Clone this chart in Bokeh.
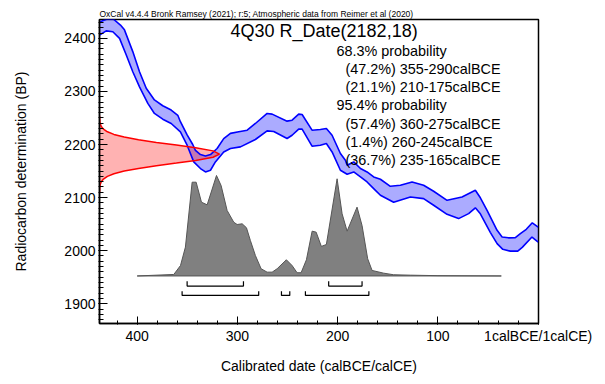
from bokeh.plotting import figure
from bokeh.models import Range1d, FixedTicker, Label
from bokeh.embed import file_html
from bokeh.resources import INLINE

# ---------------- data ----------------
cal_up_year = [437.6, 430.6, 423.6, 416.7, 412.7, 404.4, 397.7, 391.0, 382.8, 374.5, 366.1, 359.5,
               356.9, 350.2, 344.6, 341.9, 336.9, 331.9, 326.9, 320.3, 313.7, 307.0, 298.7, 290.3,
               282.1, 270.4, 265.4, 250.5, 245.5, 238.9, 235.5, 225.6, 217.3, 211.3, 205.6, 197.3,
               192.3, 190.6, 184.0, 177.3, 170.7, 164.1, 157.4, 147.5, 137.5, 125.8, 114.3, 104.3,
               90.9, 76.0, 62.7, 57.7, 51.0, 46.0, 41.0, 36.0, 29.8, 22.8, 17.8, 11.9, 5.9, 0.0]
cal_up_bp = [2431, 2436, 2436, 2425, 2416, 2375, 2337, 2306, 2284, 2273, 2265, 2255,
             2243, 2218, 2200, 2189, 2181, 2178.5, 2181, 2192.5, 2211, 2221, 2224, 2227,
             2239.6, 2258.5, 2257.2, 2244, 2245.8, 2257.2, 2256.6, 2227, 2228.3, 2230.2, 2217.5, 2183,
             2170.4, 2161, 2167.2, 2154.7, 2148.3, 2138.9, 2134.5, 2121.3, 2123.2, 2129.4, 2123.2, 2111.9,
             2094.9, 2101.1, 2113.8, 2099.6, 2076.0, 2057.2, 2038.3, 2025.7, 2024.2, 2024.5, 2032.1, 2040.2, 2052.5, 2044.5]
cal_lo_year = [437.6, 430.9, 424.3, 417.6, 410.9, 404.4, 397.7, 389.4, 382.8, 374.5, 366.1, 356.9,
               350.2, 343.6, 336.9, 331.9, 326.9, 322.0, 313.7, 307.0, 297.0, 282.1, 270.4, 263.8,
               250.5, 245.5, 238.9, 235.5, 225.6, 217.3, 211.3, 205.6, 197.3, 190.6, 184.0, 177.3,
               170.7, 164.1, 157.4, 144.2, 127.5, 114.3, 104.3, 90.9, 79.4, 69.4, 62.7, 57.7,
               47.8, 41.0, 35.3, 27.8, 20.4, 15.9, 6.2, 0.0]
cal_lo_bp = [2406, 2414, 2412.5, 2400, 2368.5, 2337, 2308.7, 2277.4, 2258.5, 2247.7, 2239.6, 2223.8,
             2198.7, 2167.2, 2154.7, 2148.3, 2151.5, 2167.2, 2186, 2192.5, 2195.5, 2209.4, 2225.7, 2224.5,
             2211.3, 2217.5, 2228.9, 2228.9, 2196.8, 2198.7, 2201.9, 2186, 2151.5, 2143.9, 2148.3, 2138.9,
             2129.4, 2117, 2104.3, 2091.1, 2101.1, 2098.1, 2085.5, 2068.5, 2060.4, 2069.8, 2080.8, 2069.4,
             2034.5, 2013.2, 2002.5, 1999.1, 1999.1, 2006.2, 2025.7, 2016.2]

lik_bp = [2110, 2120, 2125, 2130, 2135, 2140, 2145, 2150, 2155, 2160, 2165, 2170, 2176, 2182,
          2188, 2194, 2199, 2204, 2209, 2214, 2219, 2224, 2229, 2234, 2239, 2244, 2254]
lik_p = [0.0003, 0.003, 0.0066, 0.015, 0.033, 0.066, 0.120, 0.206, 0.325, 0.474, 0.641, 0.801, 0.946, 1.0,
         0.946, 0.801, 0.641, 0.474, 0.325, 0.206, 0.120, 0.066, 0.033, 0.015, 0.0066, 0.003, 0.0003]

post_year = [400.0, 363.5, 356.8, 351.9, 345.2, 341.2, 335.9, 330.2, 320.9, 316.3, 310.3, 303.7,
             300.3, 295.3, 291.0, 287.1, 282.1, 276.4, 270.4, 265.4, 260.4, 251.2, 245.5, 240.5,
             236.5, 231.2, 225.5, 221.5, 216.3, 211.3, 200.6, 195.6, 190.6, 180.7, 175.7, 170.1,
             165.7, 154.2, 144.2, 127.5, 100.0, 36.8]
post_p = [0.0, 0.015, 0.104, 0.287, 0.933, 0.933, 0.734, 0.708, 1.0, 0.9, 0.652, 0.535,
          0.512, 0.519, 0.48, 0.353, 0.204, 0.072, 0.038, 0.038, 0.072, 0.161, 0.104, 0.032,
          0.032, 0.161, 0.446, 0.436, 0.294, 0.313, 0.967, 0.619, 0.446, 0.685, 0.502, 0.171,
          0.055, 0.028, 0.012, 0.008, 0.003, 0.0]

r68_from = [350.2, 209.0]
r68_to = [294.0, 175.7]
r95_from = [355.2, 256.1, 232.2]
r95_to = [278.8, 247.8, 168.9]

header = "OxCal v4.4.4 Bronk Ramsey (2021); r:5; Atmospheric data from Reimer et al (2020)"
title = "4Q30 R_Date(2182,18)"
legend_lines = ["68.3% probability",
                "(47.2%) 355-290calBCE",
                "(21.1%) 210-175calBCE",
                "95.4% probability",
                "(57.4%) 360-275calBCE",
                "(1.4%) 260-245calBCE",
                "(36.7%) 235-165calBCE"]
legend_indent = [False, True, True, False, True, True, True]

y_major = [1900, 2000, 2100, 2200, 2300, 2400]
x_major = [0, 100, 200, 300, 400]
x_labels = {0: "1calBCE/1calCE)", 100: "100", 200: "200", 300: "300", 400: "400"}

# ---------------- figure ----------------
FONT = "Liberation Sans"
p = figure(width=600, height=380, output_backend="svg", toolbar_location=None,
           x_range=Range1d(437.6, -0.3), y_range=Range1d(1862.8, 2435.5),
           min_border_left=99, min_border_right=62, min_border_top=19, min_border_bottom=57,
           x_axis_label="Calibrated date (calBCE/calCE)",
           y_axis_label="Radiocarbon determination (BP)")
p.extra_y_ranges = {"prob": Range1d(-0.473, 2.552)}
p.extra_x_ranges = {"lik": Range1d(0, 3.658)}
p.grid.visible = False
p.outline_line_color = "black"
p.outline_line_width = 1.5
p.outline_line_alpha = 1.0

p.title.text = header
p.title.align = "left"
p.title.text_font = FONT
p.title.text_font_size = "8.5px"
p.title.text_font_style = "normal"
p.title.text_color = "black"
p.title.standoff = 1
p.title.offset = 0

for ax in (p.xaxis[0], p.yaxis[0]):
    ax.axis_line_color = "black"
    ax.axis_line_width = 1.5
    ax.major_tick_line_color = "black"
    ax.major_tick_line_width = 1
    ax.minor_tick_line_color = "black"
    ax.minor_tick_line_width = 1
    ax.major_label_text_font = FONT
    ax.major_label_text_font_size = "14px"
    ax.major_label_text_color = "black"
    ax.axis_label_text_font = FONT
    ax.axis_label_text_font_size = "14px"
    ax.axis_label_text_font_style = "normal"
    ax.axis_label_text_color = "black"

p.yaxis[0].ticker = FixedTicker(ticks=y_major, minor_ticks=list(range(1870, 2440, 10)))
p.yaxis[0].major_tick_in = 8
p.yaxis[0].major_tick_out = 1
p.yaxis[0].minor_tick_in = 4
p.yaxis[0].minor_tick_out = 1
p.yaxis[0].major_label_standoff = 3
p.yaxis[0].axis_label_standoff = 32

p.xaxis[0].ticker = FixedTicker(ticks=x_major, minor_ticks=list(range(0, 440, 20)))
p.xaxis[0].major_label_overrides = x_labels
p.xaxis[0].major_tick_in = 7
p.xaxis[0].major_tick_out = 1
p.xaxis[0].minor_tick_in = 3
p.xaxis[0].minor_tick_out = 1
p.xaxis[0].major_label_standoff = 3
p.xaxis[0].axis_label_standoff = 11

# calibration curve band
band_x = cal_up_year + cal_lo_year[::-1]
band_y = cal_up_bp + cal_lo_bp[::-1]
p.patch(band_x, band_y, fill_color="#0000ff", fill_alpha=0.33, line_color=None)

# measurement likelihood on BP axis
p.patch(lik_p, lik_bp, x_range_name="lik", fill_color="#ff0000", fill_alpha=0.3, line_color=None)

p.line(cal_up_year, cal_up_bp, line_color="#0000ff", line_width=1.6)
p.line(cal_lo_year, cal_lo_bp, line_color="#0000ff", line_width=1.6)
p.line(lik_p, lik_bp, x_range_name="lik", line_color="#ff0000", line_width=1.5)

# calibrated distribution
p.patch(post_year, post_p, y_range_name="prob", fill_color="#808080",
        line_color="#555555", line_width=1)

# range brackets
def brackets(froms, tos, ylev, yt):
    xs = [[a, a, b, b] for a, b in zip(froms, tos)]
    ys = [[yt, ylev, ylev, yt] for _ in froms]
    p.multi_line(xs, ys, y_range_name="prob", line_color="black", line_width=1.2)

brackets(r68_from, r68_to, -0.101, -0.052)
brackets(r95_from, r95_to, -0.194, -0.151)

# texts
p.add_layout(Label(x=306.9, y=2414, text=title, text_font=FONT, text_font_size="18px",
                   text_baseline="alphabetic", text_align="left", text_color="black"))
y0 = 2377
for i, (t, ind) in enumerate(zip(legend_lines, legend_indent)):
    p.add_layout(Label(x=192.3 if ind else 201.3, y=y0 - i * 34.45, text=t, text_font=FONT,
                       text_font_size="14.4px", text_baseline="alphabetic", text_align="left",
                       text_color="black"))

open("out.html", "w").write(file_html(p, INLINE))
